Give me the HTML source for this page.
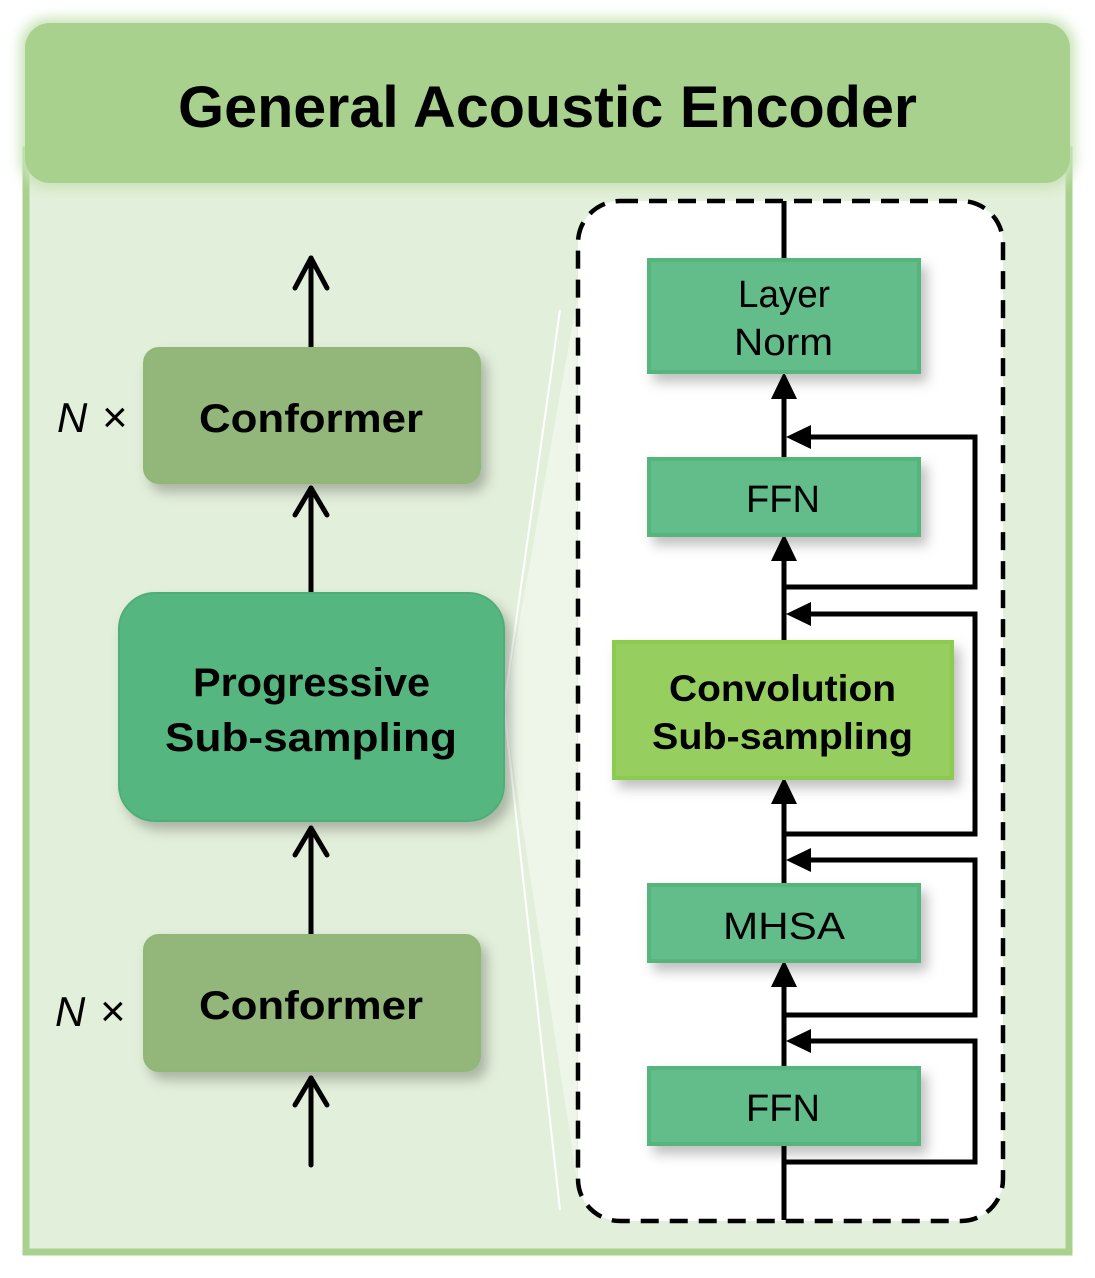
<!DOCTYPE html>
<html><head><style>
html,body{margin:0;padding:0;background:#fff;}
svg{display:block;}
text{font-family:"Liberation Sans","DejaVu Sans",sans-serif;}
</style></head><body>
<svg width="1095" height="1278" viewBox="0 0 1095 1278" xmlns="http://www.w3.org/2000/svg">
<defs>
<filter id="sh" x="-20%" y="-20%" width="150%" height="160%"><feDropShadow dx="6" dy="8" stdDeviation="6" flood-color="#000" flood-opacity="0.25"/></filter>
<filter id="gl" x="-5%" y="-20%" width="110%" height="140%"><feGaussianBlur stdDeviation="6"/></filter>
</defs>
<rect x="26" y="150" width="1043" height="1102" fill="#e2efda" stroke="#a9d18e" stroke-width="7"/>
<rect x="20" y="18" width="1055" height="170" rx="28" fill="#c9e3b8" filter="url(#gl)"/>
<rect x="25" y="23" width="1045" height="160" rx="25" fill="#a9d18e"/>
<text x="178" y="127" font-size="58" font-weight="bold" textLength="739" lengthAdjust="spacingAndGlyphs" fill="#000">General Acoustic Encoder</text>
<polygon points="504,707 577,300 577,1180" fill="#eef6ea"/>
<line x1="504" y1="707" x2="560" y2="310" stroke="#fff" stroke-width="2"/>
<line x1="504" y1="707" x2="560" y2="1210" stroke="#fff" stroke-width="2"/>
<rect x="578" y="201" width="425" height="1020" rx="42" fill="#fff" stroke="#000" stroke-width="4.5" stroke-dasharray="18,11"/>
<g stroke="#000" stroke-width="5" fill="none" stroke-linecap="round" stroke-linejoin="round">
<line x1="311" y1="348" x2="311" y2="258"/><polyline points="295,288 311,258 327,288"/>
<line x1="311" y1="593" x2="311" y2="488"/><polyline points="295,515 311,488 327,515"/>
<line x1="311" y1="935" x2="311" y2="828"/><polyline points="295,855 311,828 327,855"/>
<line x1="311" y1="1165" x2="311" y2="1078"/><polyline points="295,1105 311,1078 327,1105"/>
</g>
<rect x="144" y="348" width="336" height="135" rx="15" fill="#93b77a" stroke="#8fb776" stroke-width="2" filter="url(#sh)"/>
<text x="199" y="432" font-size="40" font-weight="bold" textLength="224" lengthAdjust="spacingAndGlyphs">Conformer</text>
<rect x="144" y="935" width="336" height="136" rx="15" fill="#93b77a" stroke="#8fb776" stroke-width="2" filter="url(#sh)"/>
<text x="199" y="1019" font-size="40" font-weight="bold" textLength="224" lengthAdjust="spacingAndGlyphs">Conformer</text>
<rect x="119" y="593" width="385" height="228" rx="36" fill="#57b67f" stroke="#4fae77" stroke-width="2" filter="url(#sh)"/>
<text x="193" y="696" font-size="40" font-weight="bold" textLength="237" lengthAdjust="spacingAndGlyphs">Progressive</text>
<text x="165" y="751" font-size="40" font-weight="bold" textLength="292" lengthAdjust="spacingAndGlyphs">Sub-sampling</text>
<text x="57" y="432" font-size="42" font-style="italic" font-family="Liberation Serif,serif">N</text>
<text x="102" y="432" font-size="44">×</text>
<text x="55" y="1026" font-size="42" font-style="italic" font-family="Liberation Serif,serif">N</text>
<text x="100" y="1026" font-size="44">×</text>
<g stroke="#000" stroke-width="5" fill="none">
<line x1="784" y1="1220" x2="784" y2="1144"/>
<line x1="784" y1="1067" x2="784" y2="985"/>
<line x1="784" y1="884" x2="784" y2="800"/>
<line x1="784" y1="641" x2="784" y2="555"/>
<line x1="784" y1="458" x2="784" y2="392"/>
<line x1="784" y1="259" x2="784" y2="201"/>
<polyline points="784,1162 975,1162 975,1041 810,1041"/>
<polyline points="784,1015 975,1015 975,860 810,860"/>
<polyline points="784,834 975,834 975,614 810,614"/>
<polyline points="784,587 975,587 975,437 810,437"/>
</g>
<g fill="#000">
<polygon points="784,960 771,987 797,987"/>
<polygon points="784,777 771,804 797,804"/>
<polygon points="784,534 771,561 797,561"/>
<polygon points="784,372 771,399 797,399"/>
<polygon points="786,1041 811,1029 811,1053"/>
<polygon points="786,860 811,848 811,872"/>
<polygon points="786,614 811,602 811,626"/>
<polygon points="786,437 811,425 811,449"/>
</g>
<g filter="url(#sh)">
<rect x="649" y="260" width="270" height="112" fill="#62bd8b" stroke="#55b57d" stroke-width="4"/>
<rect x="649" y="459" width="270" height="76" fill="#62bd8b" stroke="#55b57d" stroke-width="4"/>
<rect x="614" y="642" width="338" height="136" fill="#96cf5e" stroke="#8dcb4f" stroke-width="4"/>
<rect x="649" y="885" width="270" height="76" fill="#62bd8b" stroke="#55b57d" stroke-width="4"/>
<rect x="649" y="1068" width="270" height="76" fill="#62bd8b" stroke="#55b57d" stroke-width="4"/>
</g>
<g font-size="38" fill="#000">
<text x="738" y="307" textLength="92" lengthAdjust="spacingAndGlyphs">Layer</text>
<text x="734" y="355" textLength="99" lengthAdjust="spacingAndGlyphs">Norm</text>
<text x="746" y="512" textLength="74" lengthAdjust="spacingAndGlyphs">FFN</text>
<text x="723" y="939" textLength="122" lengthAdjust="spacingAndGlyphs">MHSA</text>
<text x="746" y="1121" textLength="74" lengthAdjust="spacingAndGlyphs">FFN</text>
</g>
<text x="669" y="701" font-size="37" font-weight="bold" textLength="227" lengthAdjust="spacingAndGlyphs">Convolution</text>
<text x="652" y="749" font-size="37" font-weight="bold" textLength="261" lengthAdjust="spacingAndGlyphs">Sub-sampling</text>
</svg>
</body></html>
